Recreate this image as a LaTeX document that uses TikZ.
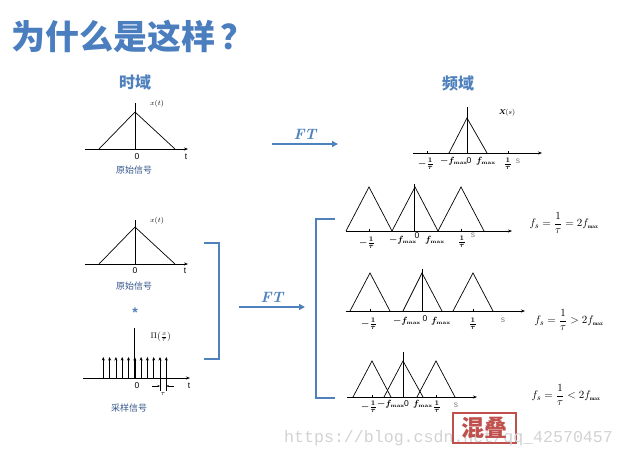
\documentclass[tikz,border=0pt]{standalone}
\usepackage{amsmath}
\usepackage{fontspec}
\newfontfamily\cjk{Noto Sans CJK SC}
\newfontfamily\wmfont{Liberation Mono}
\newfontfamily\lsans{Liberation Sans}
\usetikzlibrary{arrows.meta}
\definecolor{ppblue}{HTML}{4F81BD}
\definecolor{ttlblue}{HTML}{4A7EBF}
\definecolor{sigblue}{HTML}{34558A}
\definecolor{ppred}{HTML}{C0504D}
\newcommand\fmaxlbl{f_{\scriptscriptstyle\mathbf{max}}}
\begin{document}
\begin{tikzpicture}[x=1pt,y=-1pt,
  ax/.style={line width=0.6pt,-{Stealth[length=4pt,width=3pt]}},
  sig/.style={line width=0.7pt},
  tiny/.style={font=\fontsize{7}{8}\selectfont,inner sep=0pt},
  frc/.style={font=\boldmath\fontsize{9.5}{10}\selectfont,inner sep=0pt},
  num/.style={font=\lsans\fontsize{8.5}{9}\selectfont,inner sep=0pt},
  fl/.style={font=\boldmath\fontsize{9}{10}\selectfont,inner sep=0pt},
  sigcap/.style={font=\cjk\fontsize{9}{10}\selectfont,text=sigblue,inner sep=0pt},
  head/.style={font=\cjk\bfseries\fontsize{16}{18}\selectfont,text=ppblue,inner sep=0pt},
  ftarrow/.style={draw=ppblue,line width=1.8pt,-{Triangle[length=6pt,width=6pt]}},
  ftlbl/.style={font=\bfseries\itshape\fontsize{15}{16}\selectfont,text=ppblue,inner sep=0pt},
  brk/.style={draw=ppblue,line width=1.8pt},
  formula/.style={font=\fontsize{11}{13}\selectfont,inner sep=0pt},
  comb/.style={line width=0.6pt,-{Stealth[length=3.5pt,width=3pt]}}]
\useasboundingbox (0,0) rectangle (625,459);

% title
\node[anchor=west,inner sep=0pt,text=ttlblue,font=\cjk\bfseries\fontsize{34}{36}\selectfont] (title) at (11,36) {为什么是这样\,？};
\node[head] (td) at (135,82) {时域};
\node[head] (fd) at (458,83) {频域};

% ---------- time plot 1 ----------
\draw[ax] (85,149) -- (188,149);
\draw[sig] (135,103) -- (135,149);
\draw[sig] (99,149) -- (135,112) -- (175,149);
\node[tiny] (xt1) at (157,104) {$x(t)$};
\node[num] (z1) at (137,157) {0};
\node[num] (t1) at (186,157) {t};
\node[sigcap] (c1) at (134,170) {原始信号};

% ---------- FT arrow top ----------
\coordinate (fta) at (272,144);
\coordinate (ftb) at (338,144);
\draw[ftarrow] (fta) -- (ftb);
\node[ftlbl] (ftl1) at (305,134) {FT};

% ---------- spectrum top ----------
\draw[ax] (413,153) -- (542,153);
\draw[sig] (467,107) -- (467,153);
\draw[sig] (449,153) -- (467,118) -- (487,153);
\draw[line width=0.6pt] (427,151) -- (427,153) (508,151) -- (508,153);
\node[tiny] (xs) at (507,113) {$\boldsymbol{X}\!(s)$};
\node[frc] at (426,164) {$-\frac{1}{\tau}$};
\node[fl] at (454,161) {$-\fmaxlbl$};
\node[num] at (469,161) {0};
\node[fl] at (486,161) {$\fmaxlbl$};
\node[frc] at (508,164) {$\frac{1}{\tau}$};
\node[num,text=gray] at (518,161) {s};

% ---------- time plot 2 ----------
\draw[ax] (85,264) -- (188,264);
\draw[sig] (135,220) -- (135,264);
\draw[sig] (99,264) -- (135,227) -- (175,264);
\node[tiny] (xt2) at (157,221) {$x(t)$};
\node[num] (z2) at (135,271) {0};
\node[num] (t2) at (185,271) {t};
\node[sigcap] (c2) at (134,286) {原始信号};

\node[inner sep=0pt,text=ppblue,font=\lsans\bfseries\fontsize{14}{14}\selectfont] (star) at (135,313) {*};

% ---------- sampling comb ----------
\draw[ax] (83,378) -- (190,378);
\draw[sig] (134.5,328) -- (134.5,378);
\foreach \k in {0,...,10} {
  \draw[comb] ({103.3+6.3*\k},378) -- ({103.3+6.3*\k},357);
}
\draw[line width=0.5pt] (160,378) -- (160,391) (166.3,378) -- (166.3,391);
\draw[line width=0.5pt,-{Stealth[length=2.5pt,width=2pt]}] (152,386) -- (160,386);
\draw[line width=0.5pt,-{Stealth[length=2.5pt,width=2pt]}] (174,386) -- (166.3,386);
\node[tiny] (tau) at (163,394) {$\tau$};
\node[font=\fontsize{8}{9}\selectfont,inner sep=0pt] (pi) at (161,337) {$\Pi\bigl(\frac{x}{\tau}\bigr)$};
\node[num] (z3) at (137,386) {0};
\node[num] (t3) at (189,386) {t};
\node[sigcap] (c3) at (129,408) {采样信号};

% ---------- brackets and FT arrow ----------
\draw[brk] (204,243) -- (219,243) -- (219,359) -- (204,359);
\coordinate (ftc) at (239,307);
\coordinate (ftd) at (305,307);
\draw[ftarrow] (ftc) -- (ftd);
\node[ftlbl] (ftl2) at (272,297) {FT};
\draw[brk] (335,219) -- (316,219) -- (316,398) -- (335,398);

% ---------- spectrum 1: fs = 2fmax ----------
\draw[ax] (346,231) -- (512,231);
\draw[sig] (414,184) -- (414,231);
\draw[sig] (346,231) -- (369,187) -- (392,231) -- (415,187) -- (438,231) -- (461,187) -- (484,231);
\draw[line width=0.6pt] (369,229) -- (369,231) (461,229) -- (461,231);
\node[frc] at (367,243) {$-\frac{1}{\tau}$};
\node[fl] at (403,240) {$-\fmaxlbl$};
\node[num] at (417,236) {0};
\node[fl] at (435,240) {$\fmaxlbl$};
\node[frc] at (462,242) {$\frac{1}{\tau}$};
\node[num,text=gray] at (473,235) {s};
\node[formula] (f1) at (564,223) {$f_s=\dfrac{1}{\tau}=2\fmaxlbl$};

% ---------- spectrum 2: fs > 2fmax ----------
\draw[ax] (346,311) -- (525,311);
\draw[sig] (422,269) -- (422,311);
\draw[sig] (350,311) -- (370,273) -- (390,311);
\draw[sig] (403,311) -- (422,273) -- (442,311);
\draw[sig] (453,311) -- (473,273) -- (493,311);
\draw[line width=0.6pt] (370,309) -- (370,311) (473,309) -- (473,311);
\node[frc] at (369,324) {$-\frac{1}{\tau}$};
\node[fl] at (407,321) {$-\fmaxlbl$};
\node[num] at (425,319) {0};
\node[fl] at (441,321) {$\fmaxlbl$};
\node[frc] at (473,324) {$\frac{1}{\tau}$};
\node[num,text=gray] at (503,320) {s};
\node[formula] (f2) at (569,320) {$f_s=\dfrac{1}{\tau}>2\fmaxlbl$};

% ---------- spectrum 3: fs < 2fmax ----------
\draw[ax] (347,397) -- (477,397);
\draw[sig] (403,352) -- (403,397);
\draw[sig] (353,397) -- (372,361) -- (391,397);
\draw[sig] (384,397) -- (403,361) -- (423,397);
\draw[sig] (417,397) -- (436,361) -- (455,397);
\draw[line width=0.6pt] (372,395) -- (372,397) (436,395) -- (436,397);
\node[frc] at (369,407) {$-\frac{1}{\tau}$};
\node[fl] at (391,404) {$-\fmaxlbl$};
\node[num] at (406.5,404) {0};
\node[fl] at (423,404) {$\fmaxlbl$};
\node[frc] at (437,407) {$\frac{1}{\tau}$};
\node[num,text=gray] at (456,405) {s};
\node[formula] (f3) at (566,395) {$f_s=\dfrac{1}{\tau}<2\fmaxlbl$};

% ---------- aliasing box and watermark ----------
\draw[draw=ppred,line width=1.8pt,fill=white] (453,413) rectangle (516,443);
\node[anchor=base west,inner sep=0pt,text=gray!35,font=\wmfont\fontsize{16.6}{18}\selectfont] (wm) at (284,442) {https://blog.csdn.net/qq\_42570457};
\node[inner sep=0pt,text=ppred,font=\cjk\bfseries\fontsize{23}{25}\selectfont] (alias) at (484.5,428) {混叠};
\end{tikzpicture}
\end{document}
